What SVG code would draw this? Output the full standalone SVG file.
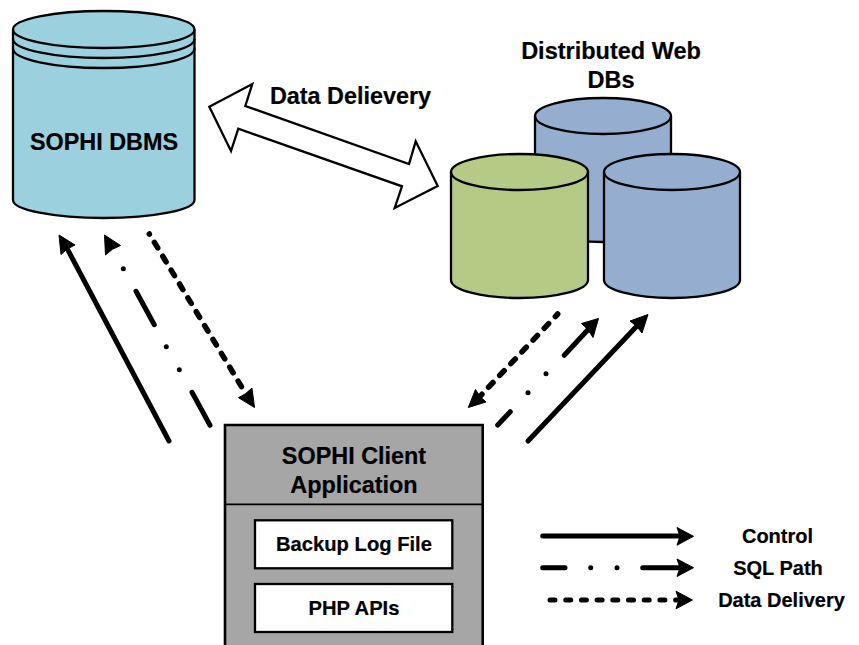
<svg xmlns="http://www.w3.org/2000/svg" width="859" height="645" viewBox="0 0 859 645">
<style>
text{font-family:"Liberation Sans",Arial,sans-serif;font-weight:bold;fill:#000;text-anchor:middle;stroke:#000;stroke-width:.2}
.s{stroke:#000;stroke-width:2.300}
.teal{fill:#9bd1df}.blue{fill:#95aed0}.green{fill:#b5ca85}
.c{fill:none;stroke:#000;stroke-width:5;stroke-linecap:round}
.d{stroke-dasharray:6.500 9.700;stroke-width:5.500}
.h{fill:#000;stroke:#000;stroke-width:1;stroke-linejoin:miter}
</style>
<rect width="859" height="645" fill="#fff"/>
<g id="sophi-dbms">
<path class="s teal" d="M13 29.500A90.750 18.500 0 0 1 194.500 29.500V200A90.750 18 0 0 1 13 200Z"/>
<path class="s" fill="none" d="M13 29.500A90.750 18.500 0 0 0 194.500 29.500M13 39A90.750 19 0 0 0 194.500 39M13 48.500A90.750 19.500 0 0 0 194.500 48.500"/>
<text x="104" y="150" font-size="23.400">SOPHI DBMS</text>
</g>
<g id="data-delivery-double-arrow">
<polygon points="209.300,106.700 252.300,84 245.300,106 409,164 415.700,141.300 437.700,186 394.700,208 402,186.300 238.300,128.700 231,151" fill="#fff" stroke="#000" stroke-width="2.300"/>
<text x="350.500" y="104" font-size="23.400">Data Delievery</text>
</g>
<g id="distributed-web-dbs">
<text x="611" y="59" font-size="23.500">Distributed Web</text>
<text x="611" y="88" font-size="23.500">DBs</text>
<g id="db-back"><path class="s blue" d="M535 116A68 18 0 0 1 671 116V224A68 18 0 0 1 535 224Z"/><path class="s" fill="none" d="M535 116A68 18 0 0 0 671 116"/></g>
<g id="db-green"><path class="s green" d="M451 172A68.500 18 0 0 1 588 172V280A68.500 18 0 0 1 451 280Z"/><path class="s" fill="none" d="M451 172A68.500 18 0 0 0 588 172"/></g>
<g id="db-right"><path class="s blue" d="M604 172A68 18 0 0 1 740 172V280A68 18 0 0 1 604 280Z"/><path class="s" fill="none" d="M604 172A68 18 0 0 0 740 172"/></g>
</g>
<g id="sophi-client">
<path d="M225 645V425H482.700V645" fill="#a6a6a6" stroke="#000" stroke-width="2.600"/>
<path d="M225 504.300H482.700" stroke="#000" stroke-width="1.800"/>
<text x="354" y="464" font-size="23.400">SOPHI Client</text>
<text x="354" y="493" font-size="23.400">Application</text>
<g id="backup-log-file"><rect x="255" y="520.300" width="197.300" height="48" fill="#fff" class="s"/><text x="354" y="551" font-size="20.200">Backup Log File</text></g>
<g id="php-apis"><rect x="255" y="584" width="197.300" height="48" fill="#fff" class="s"/><text x="354" y="615" font-size="20.200">PHP APIs</text></g>
</g>
<g id="connectors">
<path class="c" d="M169 441L67.300 248.900"/>
<polygon class="h" points="59,235 75,245 67.300,248.900 61,254.500"/>
<path class="c" d="M123.300 268.700h.01M136 291.300L154.300 324.700M166.300 346.700h.01M179.300 369.700h.01M192 392.300L210 425.300"/>
<polygon class="h" points="104.500,235 120.500,245.500 112.400,249.300 105.500,255"/>
<path class="c d" stroke-dashoffset="6.400" d="M149.300 234L245.700 393.600"/>
<polygon class="h" points="254.500,407.500 238.500,397.700 245.700,393.600 252,388"/>
<path class="c d" stroke-dashoffset="3" d="M557.700 314L479.900 396.400"/>
<polygon class="h" points="468.300,407.500 475.500,389.500 479.900,396.400 486,402"/>
<path class="c" d="M564.300 355.300L587.900 329.700M546 373.700h.01M528 392.700h.01M510.300 411.700L497.700 425"/>
<polygon class="h" points="598.500,318.500 581.500,323.500 587.900,329.700 593,337.500"/>
<path class="c" d="M528 441L636.700 326.300"/>
<polygon class="h" points="648,314.500 630,321 636.700,326.300 642,333"/>
<path class="c" d="M542.700 536H682"/>
<polygon class="h" points="693.500,536.300 677,527.500 680,536.300 677,545.200"/>
<path class="c" d="M542.700 567.700H565M590.700 567.700h.01M617 567.700h.01M642.700 567.700H682"/>
<polygon class="h" points="693.500,567.700 677,559 680,567.700 677,576.500"/>
<path class="c" stroke-dasharray="5 10.700" d="M550 600H680"/>
<polygon class="h" points="692.500,600 676,591.200 679,600 676,608.800"/>
</g>
<g id="legend-labels">
<text x="777.500" y="542.500" font-size="20">Control</text>
<text x="778" y="574.500" font-size="20">SQL Path</text>
<text x="781.500" y="606.500" font-size="20">Data Delivery</text>
</g>
</svg>
